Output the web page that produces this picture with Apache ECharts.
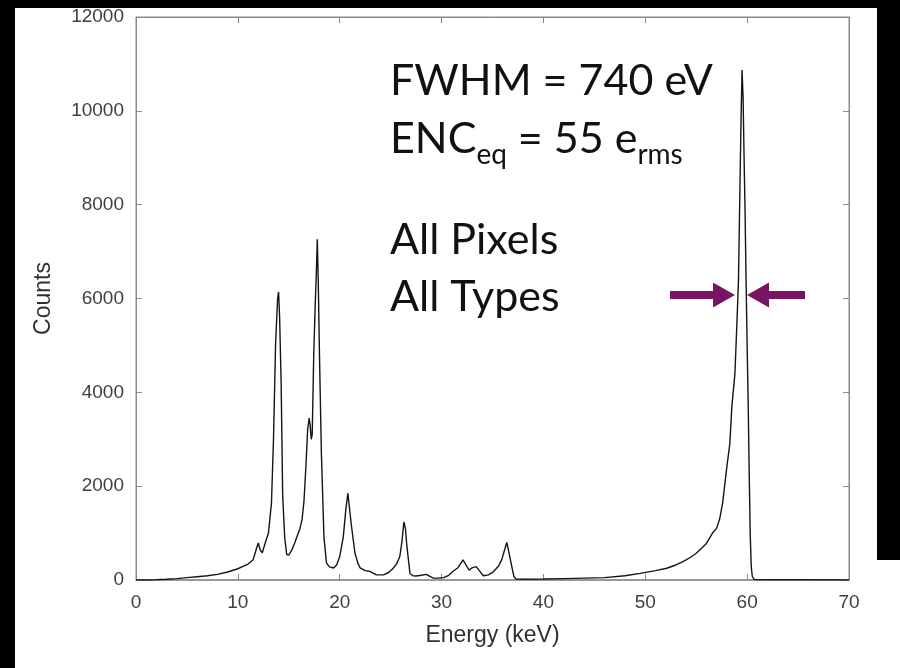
<!DOCTYPE html>
<html>
<head>
<meta charset="utf-8">
<script src="https://cdn.jsdelivr.net/npm/echarts@6/dist/echarts.min.js"></script>
<style>
html,body{margin:0;padding:0;background:#fff;}
#c{width:900px;height:668px;}
</style>
</head>
<body>
<div id="c"></div>
<script>
// Energy (keV) and counts
var energy = [0,1,2,3,4,5,6,7,8,9,10,10.5,11,11.5,11.8,12.0,12.2,12.4,12.7,13.0,13.3,13.5,13.7,13.9,14.0,14.1,14.25,14.4,14.6,14.8,15.0,15.3,15.6,15.8,16.1,16.3,16.5,16.7,16.85,17.0,17.1,17.2,17.3,17.45,17.6,17.7,17.8,17.9,18.0,18.2,18.45,18.7,19.0,19.4,19.7,20.0,20.35,20.6,20.8,21.0,21.1,21.3,21.5,21.8,22.0,22.5,23.0,23.6,24.3,24.8,25.25,25.6,25.9,26.1,26.3,26.45,26.6,26.9,27.2,27.5,28.0,28.5,28.9,29.2,29.7,30.2,30.7,31.1,31.6,32.1,32.4,32.7,33.0,33.4,33.7,34.1,34.6,35.1,35.6,35.9,36.2,36.4,36.6,36.9,37.1,37.3,38,40,42,44,46,48,49.5,51,52.1,53,53.7,54.5,55.0,55.5,56.0,56.6,57.0,57.3,57.6,58.0,58.3,58.5,58.8,59.0,59.15,59.3,59.4,59.5,59.6,59.7,59.8,59.9,60.0,60.1,60.2,60.3,60.4,60.5,60.7,62,65,70];
var counts = [0,0,5,15,30,50,70,90,120,170,240,290,340,430,650,790,640,580,800,1000,1640,3000,5000,6000,6140,5600,4200,1800,900,540,530,640,800,920,1100,1280,1700,2500,3200,3450,3300,3000,3100,4800,5900,6500,7260,6300,4950,2700,920,360,280,255,320,500,920,1500,1850,1450,1250,900,570,350,260,200,180,110,110,160,250,350,500,800,1240,1100,710,140,90,85,100,120,70,40,40,50,100,180,260,430,320,210,260,285,200,90,110,180,300,430,650,800,600,280,80,20,15,20,30,40,50,90,140,200,250,320,390,490,570,670,780,1000,1100,1300,1650,2400,2900,3700,4400,5500,6400,8450,9800,10870,10300,9000,7800,6300,5000,3800,2300,1000,300,80,10,5,5,0];
var xTicks = [0,10,20,30,40,50,60,70];
var yTicks = [0,2000,4000,6000,8000,10000,12000];

var spectrum = energy.map(function(e,i){ return [e, counts[i]]; });

var chart = echarts.init(document.getElementById('c'), null, {renderer:'canvas'});
var tickFont = {fontFamily:'Liberation Sans, Arial, sans-serif', fontSize:19, color:'#404040'};
var nameFont = {fontFamily:'Liberation Sans, Arial, sans-serif', fontSize:23, color:'#303030'};
var frame = '#8a8a8a';
var purple = '#781464';
var txtFont = '43px Lato, "Open Sans", sans-serif';
function tickCfg(){ return {show:true,inside:true,length:6,lineStyle:{color:frame}}; }
chart.setOption({
  backgroundColor:'#ffffff',
  animation:false,
  grid:{left:136,right:51,top:17,bottom:88,show:true,borderColor:frame,borderWidth:1},
  xAxis:[{
    type:'value',position:'bottom',min:xTicks[0],max:xTicks[xTicks.length-1],interval:10,
    name:'Energy (keV)',nameLocation:'middle',nameGap:44,nameTextStyle:nameFont,
    axisLine:{show:true,onZero:false,lineStyle:{color:frame,width:1.5}},
    axisTick:tickCfg(),
    axisLabel:Object.assign({margin:13,formatter:function(v){return String(v);}},tickFont),
    splitLine:{show:false}
  },{
    type:'value',position:'top',min:0,max:70,interval:10,
    axisLine:{show:true,onZero:false,lineStyle:{color:frame}},
    axisTick:tickCfg(),
    axisLabel:{show:false},splitLine:{show:false}
  }],
  yAxis:[{
    type:'value',position:'left',min:yTicks[0],max:yTicks[yTicks.length-1],interval:2000,
    name:'Counts',nameLocation:'middle',nameGap:81,nameTextStyle:nameFont,
    axisLine:{show:true,onZero:false,lineStyle:{color:frame}},
    axisTick:tickCfg(),
    axisLabel:Object.assign({margin:12,formatter:function(v){return String(v);}},tickFont),
    splitLine:{show:false}
  },{
    type:'value',position:'right',min:0,max:12000,interval:2000,
    axisLine:{show:true,onZero:false,lineStyle:{color:frame}},
    axisTick:tickCfg(),
    axisLabel:{show:false},splitLine:{show:false}
  }],
  series:[{
    type:'line',data:spectrum,showSymbol:false,smooth:false,
    lineStyle:{color:'#151515',width:1.4},
    xAxisIndex:0,yAxisIndex:0,silent:true,z:3
  }],
  graphic:[
    {type:'rect',shape:{x:0,y:0,width:15,height:668},style:{fill:'#000'},z:100},
    {type:'rect',shape:{x:0,y:0,width:900,height:8},style:{fill:'#000'},z:100},
    {type:'rect',shape:{x:877,y:0,width:23,height:560},style:{fill:'#000'},z:100},
    {type:'text',x:390,y:81,style:{text:'FWHM = 740 eV',font:txtFont,fill:'#111',textAlign:'left',textVerticalAlign:'middle'},z:50},
    {type:'text',x:390,y:139,style:{
      text:'{m|ENC}{s|eq}{m| = 55 e}{s|rms}',
      textAlign:'left',textVerticalAlign:'middle',fill:'#111',
      rich:{
        m:{font:txtFont,fill:'#111',lineHeight:60,verticalAlign:'middle'},
        s:{font:'28px Lato, "Open Sans", sans-serif',fill:'#111',lineHeight:18,verticalAlign:'bottom'}
      }},z:50},
    {type:'text',x:390,y:240,style:{text:'All Pixels',font:txtFont,fill:'#111',textAlign:'left',textVerticalAlign:'middle'},z:50},
    {type:'text',x:390,y:297,style:{text:'All Types',font:txtFont,fill:'#111',textAlign:'left',textVerticalAlign:'middle'},z:50},
    {type:'polygon',shape:{points:[[670,291],[713,291],[713,282.5],[735,295],[713,307.5],[713,299],[670,299]]},style:{fill:purple},z:50},
    {type:'polygon',shape:{points:[[805,291],[769,291],[769,282.5],[747,295],[769,307.5],[769,299],[805,299]]},style:{fill:purple},z:50}
  ]
});
</script>
</body>
</html>
